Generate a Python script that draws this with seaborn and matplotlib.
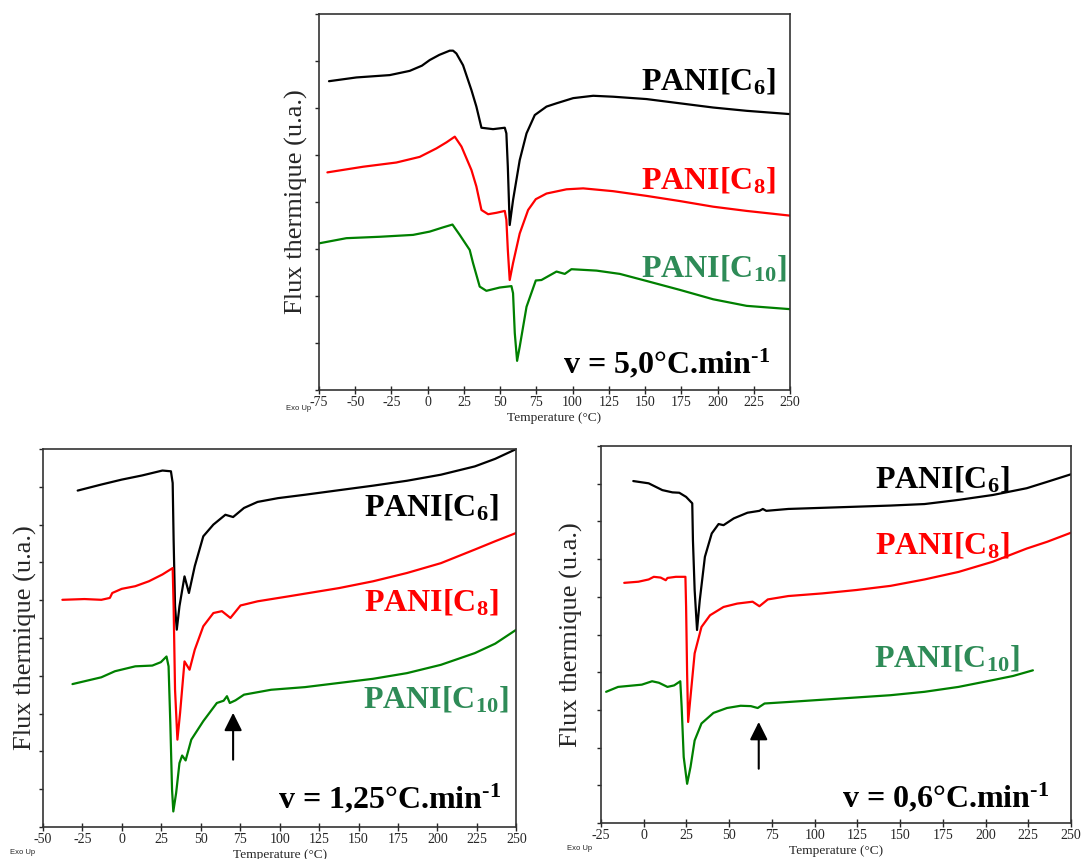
import matplotlib as mpl
import matplotlib.pyplot as plt
import numpy as np
import pandas as pd
import seaborn as sns

# ---- data (temperature in degC, flux in tick units) ----
# v = 5,0 C/min
t5_c6 = [-68.1, -49.2, -26.2, -12.4, -4.0, 1.4, 8.0, 15.2, 17.5, 19.8, 24.4, 30.2, 33.6, 37.1, 45.1,
         53.2, 54.3, 55.3, 56.6, 58.9, 63.5, 68.2, 73.9, 82.0, 88.9, 100.4, 114.2, 128.0, 151.0, 174.0,
         197.0, 220.1, 250.0]
f5_c6 = [6.57, 6.65, 6.70, 6.79, 6.90, 7.02, 7.13, 7.22, 7.22, 7.16, 6.91, 6.38, 6.03, 5.58, 5.55,
         5.58, 5.46, 4.75, 3.51, 4.04, 4.89, 5.46, 5.85, 6.03, 6.10, 6.21, 6.26, 6.24, 6.19, 6.10,
         6.01, 5.94, 5.87]
t5_c8 = [-69.2, -44.6, -21.6, -5.5, 6.0, 13.0, 18.7, 23.3, 30.2, 33.6, 37.1, 41.7, 47.4, 53.2, 54.3,
         55.3, 56.6, 58.9, 63.5, 69.3, 74.6, 82.0, 95.8, 107.3, 128.0, 151.0, 174.0, 197.0, 220.1, 250.0]
f5_c8 = [4.63, 4.75, 4.84, 4.96, 5.14, 5.27, 5.39, 5.18, 4.68, 4.33, 3.83, 3.74, 3.77, 3.81, 3.62,
         2.98, 2.34, 2.70, 3.33, 3.83, 4.06, 4.18, 4.27, 4.29, 4.23, 4.13, 4.02, 3.90, 3.81, 3.71]
t5_c10 = [-75.0, -56.1, -33.1, -10.1, 1.4, 10.6, 17.1, 22.1, 29.0, 31.3, 35.9, 40.5, 49.7, 57.8, 58.9,
          60.1, 61.7, 63.5, 68.2, 74.6, 78.5, 88.9, 94.6, 99.2, 116.5, 132.6, 151.0, 174.0, 197.0,
          220.1, 250.0]
f5_c10 = [3.12, 3.23, 3.26, 3.30, 3.37, 3.46, 3.52, 3.30, 2.98, 2.70, 2.20, 2.11, 2.18, 2.21, 2.06,
          1.21, 0.62, 0.92, 1.77, 2.33, 2.34, 2.52, 2.47, 2.57, 2.54, 2.47, 2.32, 2.13, 1.93,
          1.79, 1.72]

# v = 1,25 C/min
t125_c6 = [-28.0, -13.0, -0.1, 12.8, 25.7, 31.1, 32.2, 32.8, 33.7, 34.8, 36.5, 39.7, 42.5, 46.2, 51.6,
           58.0, 65.6, 70.5, 77.4, 86.0, 99.0, 116.1, 137.6, 159.2, 180.7, 202.2, 223.7, 236.6, 250.0]
f125_c6 = [8.90, 9.06, 9.19, 9.30, 9.43, 9.41, 9.10, 7.60, 5.84, 5.22, 5.84, 6.63, 6.19, 6.90, 7.69,
           8.00, 8.26, 8.20, 8.44, 8.60, 8.70, 8.79, 8.91, 9.03, 9.16, 9.32, 9.54, 9.74, 10.0]
t125_c8 = [-37.7, -23.7, -13.0, -7.6, -6.1, -0.1, 8.5, 17.1, 25.7, 32.2, 32.8, 33.7, 35.2, 36.9, 39.7,
           42.9, 46.2, 51.6, 58.0, 63.4, 68.8, 75.2, 86.0, 105.4, 137.6, 159.2, 180.7, 202.2, 223.7,
           236.6, 250.0]
f125_c8 = [6.01, 6.03, 6.01, 6.06, 6.19, 6.30, 6.37, 6.50, 6.68, 6.85, 5.84, 3.63, 2.31, 3.02, 4.38,
           4.16, 4.69, 5.31, 5.66, 5.71, 5.53, 5.86, 5.97, 6.10, 6.32, 6.50, 6.72, 6.98, 7.34,
           7.56, 7.78]
t125_c10 = [-31.3, -13.0, -4.4, 8.5, 19.3, 24.7, 28.3, 29.6, 30.7, 31.8, 32.6, 34.4, 36.5, 38.2, 40.4,
            44.0, 51.6, 60.2, 64.5, 66.6, 68.4, 72.0, 77.4, 94.6, 116.1, 137.6, 159.2, 180.7, 202.2,
            223.7, 236.6, 250.0]
f125_c10 = [3.78, 3.96, 4.12, 4.25, 4.27, 4.36, 4.51, 4.25, 2.75, 0.99, 0.41, 0.90, 1.69, 1.89, 1.76,
            2.31, 2.80, 3.28, 3.34, 3.46, 3.28, 3.35, 3.50, 3.63, 3.70, 3.81, 3.92, 4.07, 4.29,
            4.60, 4.85, 5.22]

# v = 0,6 C/min
t06_c6 = [-6.1, 2.9, 10.9, 16.8, 20.8, 24.8, 28.4, 28.8, 29.8, 31.2, 32.8, 35.8, 39.8, 43.8, 46.7,
          52.7, 60.7, 67.7, 69.7, 71.7, 84.6, 104.5, 124.5, 144.4, 164.3, 184.2, 204.2, 224.1,
          236.1, 250.0]
f06_c6 = [9.07, 9.01, 8.83, 8.77, 8.76, 8.65, 8.48, 7.50, 6.18, 5.12, 5.91, 7.06, 7.68, 7.93, 7.90,
          8.08, 8.23, 8.28, 8.33, 8.28, 8.33, 8.36, 8.39, 8.42, 8.46, 8.57, 8.70, 8.88,
          9.05, 9.25]
t06_c8 = [-11.4, -3.1, 2.9, 5.9, 9.9, 12.9, 13.9, 18.8, 24.4, 24.8, 25.4, 26.0, 27.2, 29.8, 33.8,
          38.8, 46.7, 54.7, 63.7, 67.7, 72.6, 84.6, 104.5, 124.5, 144.4, 164.3, 184.2, 204.2,
          224.1, 236.1, 250.0]
f06_c8 = [6.37, 6.40, 6.46, 6.53, 6.51, 6.44, 6.50, 6.53, 6.53, 5.73, 3.96, 2.68, 3.26, 4.50, 5.20,
          5.51, 5.73, 5.82, 5.87, 5.75, 5.93, 6.02, 6.09, 6.18, 6.29, 6.46, 6.66, 6.93,
          7.28, 7.46, 7.70]
t06_c10 = [-22.0, -15.0, -1.1, 4.9, 8.9, 13.9, 17.8, 21.4, 22.2, 23.4, 25.4, 27.4, 29.8, 33.8, 40.8,
           48.7, 56.7, 62.7, 66.7, 70.7, 84.6, 104.5, 124.5, 144.4, 164.3, 184.2, 204.2, 216.1, 227.7]
f06_c10 = [3.48, 3.61, 3.67, 3.76, 3.72, 3.61, 3.65, 3.76, 3.08, 1.75, 1.04, 1.49, 2.19, 2.64, 2.92,
           3.05, 3.11, 3.10, 3.05, 3.17, 3.21, 3.27, 3.33, 3.39, 3.48, 3.61, 3.79, 3.90, 4.05]

samples = ['PANI[C$_6$]', 'PANI[C$_8$]', 'PANI[C$_{10}$]']
line_colors = ['black', '#ff0000', '#008000']
text_colors = ['black', '#ff0000', '#2e8b57']

sns.set_style("ticks")
plt.rcParams['font.family'] = ['Liberation Serif', 'DejaVu Serif']
plt.rcParams['mathtext.fontset'] = 'custom'
plt.rcParams['mathtext.rm'] = 'Liberation Serif:bold'
plt.rcParams['mathtext.default'] = 'regular'
plt.rcParams['axes.unicode_minus'] = False
plt.rcParams['axes.linewidth'] = 1.2
plt.rcParams['axes.edgecolor'] = '#333333'

fig = plt.figure(figsize=(10.85, 8.59), dpi=100)

panels = [
    # axes rect, xlim, n y-intervals, curves, label positions, rate text
    dict(rect=[0.2940, 0.5460, 0.4341, 0.4377], xmin=-75, ny=8,
         curves=[(t5_c6, f5_c6), (t5_c8, f5_c8), (t5_c10, f5_c10)],
         lab_pos=[(0.970, 0.798), (0.970, 0.537), (0.994, 0.303)],
         rate='v = 5,0°C.min$^{\\text{-1}}$', rate_pos=(0.958, 0.045),
         arrow=None, ylab_x=-0.024, xlab_y=-0.058, exo=(286 / 1085, 1 - 408 / 859)),
    dict(rect=[0.0396, 0.0373, 0.4363, 0.4400], xmin=-50, ny=10,
         curves=[(t125_c6, f125_c6), (t125_c8, f125_c8), (t125_c10, f125_c10)],
         lab_pos=[(0.962, 0.823), (0.962, 0.574), (0.985, 0.317)],
         rate='v = 1,25°C.min$^{\\text{-1}}$', rate_pos=(0.968, 0.050),
         arrow=(70.5, 1.78, 3.02), ylab_x=-0.013, xlab_y=-0.058, exo=(10 / 1085, 1 - 852 / 859)),
    dict(rect=[0.5539, 0.0419, 0.4332, 0.4389], xmin=-25, ny=10,
         curves=[(t06_c6, f06_c6), (t06_c8, f06_c8), (t06_c10, f06_c10)],
         lab_pos=[(0.870, 0.889), (0.870, 0.716), (0.891, 0.414)],
         rate='v = 0,6°C.min$^{\\text{-1}}$', rate_pos=(0.953, 0.042),
         arrow=(67.3, 1.44, 2.68), ylab_x=-0.039, xlab_y=-0.058, exo=(567 / 1085, 1 - 848 / 859)),
]

for p in panels:
    ax = fig.add_axes(p['rect'])
    for (t, f), col in zip(p['curves'], line_colors):
        sns.lineplot(x=t, y=f, ax=ax, color=col, linewidth=1.6, sort=False, estimator=None)

    ax.set_xlim(p['xmin'], 250)
    ax.set_ylim(0, p['ny'])
    ax.set_xticks(np.arange(p['xmin'], 251, 25))
    ax.set_yticks(np.arange(0, p['ny'] + 1))
    ax.set_yticklabels([])
    ax.tick_params(axis='x', direction='inout', length=6, width=1.0, labelsize=10, pad=1)
    ax.tick_params(axis='y', direction='out', length=3, width=1.0)

    ax.set_ylabel('Flux thermique (u.a.)', fontsize=19)
    ax.yaxis.set_label_coords(p['ylab_x'], 0.5)
    ax.set_xlabel('Temperature (°C)', fontsize=9.6)
    ax.xaxis.set_label_coords(0.5, p['xlab_y'])

    for name, (x, y), col in zip(samples, p['lab_pos'], text_colors):
        ax.text(x, y, name, transform=ax.transAxes, ha='right', va='baseline',
                fontsize=23, fontweight='bold', color=col)
    ax.text(p['rate_pos'][0], p['rate_pos'][1], p['rate'], transform=ax.transAxes,
            ha='right', va='baseline', fontsize=23, fontweight='bold', color='black')

    if p['arrow'] is not None:
        xa, y0, y1 = p['arrow']
        ax.annotate('', xy=(xa, y1), xytext=(xa, y0),
                    arrowprops=dict(arrowstyle='-|>', color='black', lw=1.5,
                                    mutation_scale=27, shrinkA=0, shrinkB=0))

    fig.text(p['exo'][0], p['exo'][1], 'Exo Up', fontsize=5.5, family='Liberation Sans',
             ha='left', va='center')

fig.savefig('out.png', dpi=100)
plt.close(fig)
